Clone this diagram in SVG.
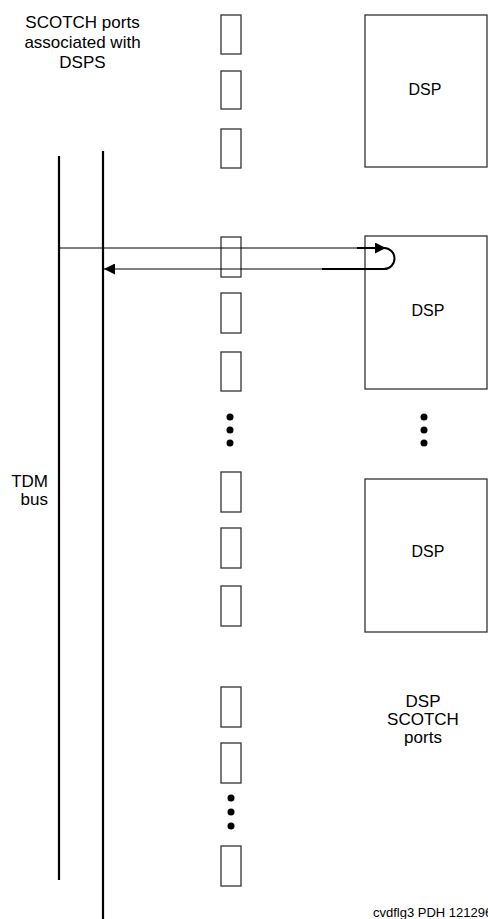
<svg xmlns="http://www.w3.org/2000/svg" width="488" height="919" viewBox="0 0 488 919">
<style>
  .bg { fill: #ffffff; }
  .port { fill: #ffffff; stroke: #333333; stroke-width: 1.3; }
  .dsp { fill: #ffffff; stroke: #333333; stroke-width: 1.3; }
  .bus { stroke: #000000; stroke-width: 2.2; fill: none; }
  .thin { stroke: #000000; stroke-width: 1; fill: none; }
  .thick { stroke: #000000; stroke-width: 2; fill: none; }
  .lbl { font-family: "Liberation Sans", Arial, sans-serif; font-size: 17px; fill: #000000; }
  .dlbl { font-family: "Liberation Sans", Arial, sans-serif; font-size: 16px; fill: #000000; text-anchor: middle; }
  .foot { font-family: "Liberation Sans", Arial, sans-serif; font-size: 13px; fill: #000000; }
  .dot { fill: #000000; }
</style>
<defs>
  <marker id="ah" viewBox="0 0 10 10" refX="10" refY="5" markerWidth="11" markerHeight="11" markerUnits="userSpaceOnUse" orient="auto">
    <path d="M0,0 L10,5 L0,10 Z" fill="#000000"/>
  </marker>
</defs>
<rect class="bg" x="0" y="0" width="488" height="919"/>

<g id="label-scotch">
  <text class="lbl" x="82.5" y="28" text-anchor="middle">SCOTCH ports</text>
  <text class="lbl" x="82.5" y="48" text-anchor="middle">associated with</text>
  <text class="lbl" x="82.5" y="68" text-anchor="middle">DSPS</text>
</g>

<g id="tdm-bus">
  <line class="bus" x1="59" y1="156" x2="59" y2="880"/>
  <line class="bus" x1="103" y1="151" x2="103" y2="919"/>
  <text class="lbl" x="48" y="487" text-anchor="end">TDM</text>
  <text class="lbl" x="48" y="505" text-anchor="end">bus</text>
</g>

<g id="ports">
  <rect class="port" x="221" y="15" width="20" height="39"/>
  <rect class="port" x="221" y="71" width="20" height="38"/>
  <rect class="port" x="221" y="129" width="20" height="39"/>
  <rect class="port" x="221" y="237" width="20" height="40"/>
  <rect class="port" x="221" y="293" width="20" height="40"/>
  <rect class="port" x="221" y="352" width="20" height="39"/>
  <circle class="dot" cx="230" cy="417" r="3.5"/>
  <circle class="dot" cx="230" cy="430" r="3.5"/>
  <circle class="dot" cx="230" cy="443" r="3.5"/>
  <rect class="port" x="221" y="472" width="20" height="40"/>
  <rect class="port" x="221" y="528" width="20" height="40"/>
  <rect class="port" x="221" y="586" width="20" height="40"/>
  <rect class="port" x="221" y="687" width="20" height="40"/>
  <rect class="port" x="221" y="743" width="20" height="40"/>
  <circle class="dot" cx="231" cy="798" r="3.5"/>
  <circle class="dot" cx="231" cy="812" r="3.5"/>
  <circle class="dot" cx="231" cy="826" r="3.5"/>
  <rect class="port" x="221" y="846" width="20" height="40"/>
</g>

<g id="dsp1">
  <rect class="dsp" x="365" y="15" width="122" height="152"/>
  <text class="dlbl" x="425" y="95">DSP</text>
</g>
<g id="dsp2">
  <rect class="dsp" x="365" y="236" width="122" height="153"/>
  <text class="dlbl" x="428" y="316">DSP</text>
</g>
<g id="dsp-dots">
  <circle class="dot" cx="424" cy="417" r="3.5"/>
  <circle class="dot" cx="424" cy="430" r="3.5"/>
  <circle class="dot" cx="424" cy="443" r="3.5"/>
</g>
<g id="dsp3">
  <rect class="dsp" x="365" y="479" width="122" height="153"/>
  <text class="dlbl" x="428" y="557">DSP</text>
</g>

<g id="label-dsp-scotch">
  <text class="lbl" x="423" y="707" text-anchor="middle">DSP</text>
  <text class="lbl" x="423" y="725" text-anchor="middle">SCOTCH</text>
  <text class="lbl" x="423" y="743" text-anchor="middle">ports</text>
</g>

<g id="connectors">
  <line class="thin" x1="59" y1="248" x2="357" y2="248"/>
  <line class="thick" x1="357" y1="248" x2="386" y2="248" marker-end="url(#ah)"/>
  <path class="thick" d="M384,248 A10.5,10.5 0 0 1 384,269"/>
  <line class="thick" x1="384" y1="269" x2="322" y2="269"/>
  <line class="thin" x1="322" y1="269" x2="104" y2="269" marker-end="url(#ah)"/>
</g>

<text class="foot" x="373" y="917">cvdflg3 PDH 121296</text>
</svg>
